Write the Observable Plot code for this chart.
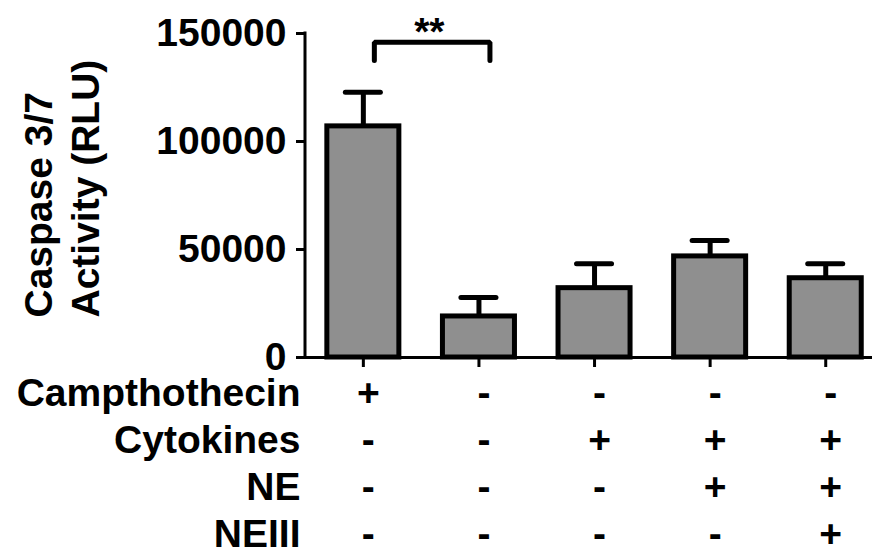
<!DOCTYPE html>
<html>
<head>
<meta charset="utf-8">
<script src="https://cdn.jsdelivr.net/npm/d3@7"></script>
<script src="https://cdn.jsdelivr.net/npm/@observablehq/plot@0.6"></script>
<style>
  html, body { margin: 0; padding: 0; background: #ffffff; }
  #chart { width: 872px; height: 548px; }
</style>
</head>
<body>
<div id="chart"></div>
<script>
// ---------- data ----------
const groups = ["1", "2", "3", "4", "5"];
const means  = [107000, 19000, 32100, 46800, 36700];
const sems   = [15800, 8800, 11300, 7400, 6700];
const yTicks = [0, 50000, 100000, 150000];
const yLabelLines = ["Caspase 3/7", "Activity (RLU)"];
const rowLabels = ["Campthothecin", "Cytokines", "NE", "NEIII"];
const camptothecin = ["+", "-", "-", "-", "-"];
const cytokines    = ["-", "-", "+", "+", "+"];
const ne           = ["-", "-", "-", "+", "+"];
const neiii        = ["-", "-", "-", "-", "+"];
const sigFrom = "1", sigTo = "2", sigText = "**";
const sigLow = 137500, sigHigh = 146000;

// ---------- build tables ----------
const bars = groups.map((g, i) => ({g, mean: means[i], top: means[i] + sems[i]}));
const rows = [camptothecin, cytokines, ne, neiii];
const sigPath = [
  {g: sigFrom, y: sigLow}, {g: sigFrom, y: sigHigh},
  {g: sigTo, y: sigHigh}, {g: sigTo, y: sigLow}
];

const FONT = "'Liberation Sans', Arial, Helvetica, sans-serif";
const FS = 39;
const ROW0 = 48, ROWSTEP = 47;

const yAxisLine = (index, scales, values, dims) => {
  const l = document.createElementNS("http://www.w3.org/2000/svg", "line");
  l.setAttribute("x1", dims.marginLeft);
  l.setAttribute("x2", dims.marginLeft);
  l.setAttribute("y1", scales.y(0));
  l.setAttribute("y2", scales.y(d3.max(yTicks)));
  l.setAttribute("stroke", "black");
  l.setAttribute("stroke-width", 3);
  l.setAttribute("stroke-linecap", "square");
  return l;
};

const chart = Plot.plot({
  width: 872,
  height: 548,
  marginLeft: 305,
  marginRight: 0,
  marginTop: 33,
  marginBottom: 191,
  style: {fontFamily: FONT, fontWeight: "bold", background: "white", color: "black", overflow: "visible"},
  x: {domain: groups, paddingInner: 0.377, paddingOuter: 0.141, align: 0.67, round: false, axis: null},
  y: {domain: [0, 150000], axis: null},
  marks: [
    Plot.barY(bars, {x: "g", y: "mean", fill: "#8f8f8f", stroke: "black", strokeWidth: 5}),
    Plot.ruleX(bars, {x: "g", y1: "mean", y2: "top", stroke: "black", strokeWidth: 5}),
    Plot.tickY(bars, {x: "g", y: "top", stroke: "black", strokeWidth: 5, strokeLinecap: "round", insetLeft: 18.5, insetRight: 18.5}),
    Plot.ruleY([0], {stroke: "black", strokeWidth: 3}),
    yAxisLine,
    Plot.axisY({ticks: yTicks, tickSize: 9, tickPadding: 10, strokeWidth: 3, tickFormat: d => String(d),
                fontSize: FS, fontWeight: "bold", label: null}),
    Plot.axisX({ticks: groups, tickSize: 10, strokeWidth: 3, tickFormat: () => "", label: null}),
    // significance bracket
    Plot.line(sigPath, {x: "g", y: "y", dx: 11, stroke: "black", strokeWidth: 5, strokeLinecap: "round", strokeLinejoin: "miter"}),
    Plot.text([{g: sigFrom, y: sigHigh, t: sigText}], {x: "g", y: "y", text: "t", dx: 66, dy: 3, lineAnchor: "bottom",
               fontSize: FS, fontWeight: "bold", fill: "black"}),
    // y axis title
    Plot.text([yLabelLines.join("\n")], {frameAnchor: "bottom-left", dx: -207, dy: -40, rotate: -90,
               textAnchor: "start", lineAnchor: "bottom", lineHeight: 1.18, fontSize: FS, fontWeight: "bold", fill: "black"}),
    // condition table: row labels
    ...rowLabels.map((lab, r) => Plot.text([lab], {frameAnchor: "bottom-left", dx: -5, dy: ROW0 + r * ROWSTEP,
               textAnchor: "end", lineAnchor: "bottom", fontSize: FS, fontWeight: "bold", fill: "black"})),
    // condition table: signs
    ...rows.map((row, r) => Plot.text(groups.map((g, i) => ({g, s: row[i]})), {x: "g", text: "s", frameAnchor: "bottom",
               dx: 5, dy: ROW0 + r * ROWSTEP, lineAnchor: "bottom", fontSize: FS, fontWeight: "bold", fill: "black"}))
  ]
});

document.getElementById("chart").appendChild(chart);
</script>
</body>
</html>
